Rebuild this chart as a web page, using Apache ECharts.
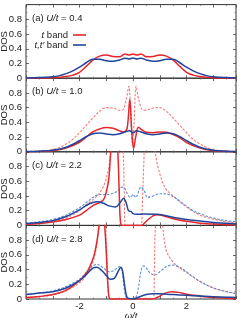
<!DOCTYPE html>
<html><head><meta charset="utf-8">
<script src="https://cdn.jsdelivr.net/npm/echarts@6/dist/echarts.min.js"></script>
<style>html,body{margin:0;padding:0;background:#fff}#c{width:240px;height:318px}</style>
</head><body><div id="c"></div>
<script>
// ---- data (ω/t , DOS) ----
const panelLabels = ['(a) {i|U/t} = 0.4', '(b) {i|U/t} = 1.0', '(c) {i|U/t} = 2.2', '(d) {i|U/t} = 2.8'];
const xTickLabels = [-2, 0, 2];
const yTickLabels = [0, 0.2, 0.4, 0.6, 0.8];

// (a) U/t = 0.4
const aX      = [-4,-3.5,-3,-2.75,-2.5,-2.25,-2,-1.75,-1.5,-1.25,-1,-0.75,-0.5,-0.3,-0.15,0,0.15,0.3,0.5,0.75,1,1.25,1.5,1.75,2,2.25,2.5,2.75,3,3.5,3.85];
const aRed    = [0,0.002,0.006,0.012,0.022,0.042,0.08,0.16,0.245,0.3,0.315,0.295,0.29,0.33,0.315,0.33,0.315,0.33,0.29,0.295,0.315,0.3,0.245,0.16,0.08,0.042,0.022,0.012,0.006,0.002,0.001];
const aBlue   = [0.003,0.008,0.02,0.035,0.062,0.1,0.15,0.21,0.258,0.258,0.238,0.23,0.248,0.272,0.262,0.275,0.262,0.272,0.248,0.23,0.238,0.258,0.258,0.21,0.15,0.1,0.062,0.035,0.02,0.008,0.004];

// (b) U/t = 1.0
const bRedX   = [-4,-3.5,-3,-2.5,-2,-1.75,-1.5,-1.25,-1,-0.75,-0.5,-0.35,-0.22,-0.12,-0.05,0.02,0.1,0.2,0.32,0.5,0.75,1,1.25,1.5,1.75,2,2.5,3,3.5,3.85];
const bRed    = [0.002,0.005,0.015,0.05,0.13,0.2,0.27,0.31,0.33,0.32,0.285,0.27,0.32,0.71,0.3,0.045,0.2,0.335,0.3,0.265,0.26,0.27,0.265,0.235,0.19,0.125,0.05,0.015,0.005,0.002];
const bRedDX  = [-4,-3.5,-3,-2.75,-2.5,-2.25,-2,-1.75,-1.5,-1.25,-1,-0.75,-0.5,-0.38,-0.26,-0.16,-0.07,-0.02,0.04,0.12,0.22,0.36,0.5,0.75,1,1.25,1.5,1.75,2,2.25,2.5,2.75,3,3.5,3.85];
const bRedD   = [0.003,0.01,0.03,0.06,0.105,0.17,0.26,0.36,0.46,0.55,0.6,0.595,0.565,0.57,0.7,0.89,0.4,0.1,0.4,0.89,0.7,0.57,0.565,0.595,0.6,0.55,0.46,0.36,0.26,0.17,0.105,0.06,0.03,0.01,0.005];
const bBlueX  = [-4,-3.5,-3,-2.5,-2,-1.75,-1.5,-1.25,-1,-0.75,-0.5,-0.3,-0.12,0,0.12,0.3,0.5,0.75,1,1.25,1.5,1.75,2,2.5,3,3.5,3.85];
const bBlue   = [0.003,0.008,0.02,0.062,0.15,0.205,0.245,0.255,0.242,0.232,0.245,0.27,0.285,0.255,0.285,0.27,0.245,0.232,0.242,0.255,0.245,0.205,0.15,0.062,0.02,0.008,0.004];

// (c) U/t = 2.2
const cRedX   = [-4,-3.5,-3,-2.5,-2,-1.75,-1.5,-1.25,-1.1,-1,-0.9,-0.82,-0.7,-0.58,-0.52,-0.47,-0.4,0.3,0.35,0.45,0.6,0.75,0.9,1.1,1.5,2,2.5,3,3.5,3.85];
const cRed    = [0.015,0.025,0.045,0.08,0.14,0.2,0.27,0.31,0.35,0.45,0.65,1.05,1.3,1.05,0.5,0.05,0,0,0.005,0.04,0.09,0.13,0.145,0.135,0.09,0.055,0.03,0.018,0.01,0.007];
const cRedDX  = [-4,-3.5,-3,-2.5,-2,-1.75,-1.5,-1.25,-1.05,-0.9,-0.8,-0.6,-0.4,-0.33,-0.28,0.3,0.35,0.4,0.45,0.7,0.85,0.97,1.2,1.5,2,2.5,3,3.5,3.85];
const cRedD   = [0.02,0.03,0.055,0.1,0.2,0.28,0.35,0.44,0.58,0.8,1.05,1.3,1.1,0.5,0,0,0.3,0.8,1.1,1.3,0.95,0.74,0.51,0.4,0.25,0.14,0.085,0.05,0.035];
const cBlueX  = [-4,-3.5,-3,-2.5,-2,-1.75,-1.5,-1.35,-1.1,-0.9,-0.65,-0.5,-0.35,-0.25,-0.17,-0.08,0,0.12,0.4,0.9,1.5,2,2.5,3,3.5,3.85];
const cBlue   = [0.025,0.04,0.065,0.12,0.21,0.27,0.31,0.32,0.3,0.265,0.25,0.3,0.37,0.3,0.2,0.19,0.16,0.15,0.155,0.15,0.11,0.08,0.06,0.04,0.03,0.02];
const cBlueDX = [-4,-3.5,-3,-2.5,-2,-1.75,-1.5,-1.25,-1,-0.8,-0.6,-0.4,-0.3,-0.2,-0.1,0,0.1,0.3,0.42,0.55,0.75,1,1.2,1.5,1.75,2,2.25,2.5,3,3.5,3.85];
const cBlueD  = [0.03,0.05,0.08,0.14,0.24,0.31,0.38,0.42,0.42,0.43,0.46,0.52,0.5,0.42,0.38,0.42,0.38,0.52,0.47,0.38,0.4,0.43,0.43,0.39,0.33,0.26,0.2,0.16,0.1,0.065,0.05];

// (d) U/t = 2.8
const dRedX   = [-4,-3.5,-3,-2.5,-2,-1.75,-1.6,-1.45,-1.33,-1.25,-1.15,-1.07,-1,-0.95,-0.9,-0.85,0.7,0.8,0.95,1.2,1.45,1.7,2,2.5,3,3.5,3.85];
const dRed    = [0.02,0.035,0.06,0.12,0.25,0.35,0.45,0.6,0.83,1.05,1.3,1.05,0.65,0.25,0.03,0,0,0.005,0.03,0.08,0.1,0.09,0.065,0.04,0.02,0.01,0.005];
const dRedDX  = [-4,-3.5,-3,-2.5,-2,-1.75,-1.5,-1.35,-1.25,-1.1,-0.98,-0.92,-0.86,0.76,0.8,0.85,1,1.15,1.25,1.5,1.75,2,2.5,3,3.5,3.85];
const dRedD   = [0.015,0.03,0.055,0.11,0.22,0.32,0.5,0.75,1.05,1.3,0.6,0.1,0,0,0.4,1.05,1.3,0.85,0.65,0.5,0.42,0.36,0.24,0.15,0.1,0.08];
const dBlueX  = [-4,-3.5,-3,-2.5,-2,-1.75,-1.5,-1.35,-1.15,-1,-0.85,-0.7,-0.55,-0.45,-0.38,-0.3,-0.22,-0.1,0,0.1,0.25,0.5,0.75,1,1.25,1.5,2,2.5,3,3.5,3.85];
const dBlue   = [0.06,0.08,0.1,0.15,0.25,0.33,0.42,0.43,0.38,0.32,0.27,0.28,0.38,0.43,0.36,0.15,0.02,0.005,0,0.01,0.03,0.06,0.07,0.07,0.065,0.06,0.05,0.04,0.03,0.025,0.02];
const dBlueDX = [-4,-3.5,-3,-2.5,-2,-1.75,-1.5,-1.35,-1.1,-0.9,-0.75,-0.6,-0.5,-0.42,-0.33,-0.25,-0.1,0.1,0.2,0.3,0.4,0.5,0.65,0.85,1,1.25,1.5,1.75,2,2.25,2.5,3,3.5,3.85];
const dBlueD  = [0.06,0.085,0.11,0.17,0.27,0.36,0.45,0.47,0.42,0.37,0.38,0.42,0.44,0.4,0.15,0.02,0,0.02,0.15,0.38,0.45,0.42,0.35,0.33,0.37,0.44,0.46,0.43,0.37,0.3,0.24,0.15,0.1,0.07];

// ---- styling ----
const RED = '#e8262a', RED_D = '#f27b7b', BLUE = '#22459c', BLUE_D = '#5b8fd9';
const TXT = '#222';
const FONT = '"Liberation Sans Narrow", "Liberation Sans", sans-serif';
const W = 240, L = 26, R = 4, T0 = 4.6, H = 73.6;

const pairs = (xs, ys) => xs.map((x, i) => [x, ys[i]]);

const grids = [], xAxes = [], yAxes = [], titles = [], series = [];
for (let i = 0; i < 4; i++) {
  grids.push({left: L, right: R, top: T0 + i * H, height: H, containLabel: false, outerBoundsMode: 'none',
    show: true, borderColor: '#333', borderWidth: 1, backgroundColor: 'transparent'});
  titles.push({text: panelLabels[i], left: 32, top: T0 + i * H + 8.5, padding: 0,
    textStyle: {fontSize: 9.5, fontWeight: 'normal', color: TXT, fontFamily: FONT,
      rich: {i: {fontStyle: 'italic', fontSize: 9.5, color: TXT, fontFamily: FONT}}}});
}
const tickStyle = {show: true, inside: true, length: 3, lineStyle: {color: '#444', width: 0.8}};
const minorStyle = {show: true, splitNumber: 2, length: 1.5, lineStyle: {color: '#666', width: 0.6}};
for (let i = 0; i < 4; i++) {
  const last = i === 3;
  xAxes.push({type: 'value', gridIndex: i, min: -4, max: 3.85, interval: 1, position: 'bottom',
    axisLine: {show: false, onZero: false}, splitLine: {show: false},
    axisTick: tickStyle, minorTick: minorStyle,
    axisLabel: {show: last, margin: 2, fontSize: 9.5, color: TXT, fontFamily: FONT, showMaxLabel: false,
      formatter: v => (Math.abs(v - Math.round(v)) < 1e-6 && xTickLabels.includes(Math.round(v))) ? String(Math.round(v)) : ''},
    name: last ? 'ω/t' : '', nameLocation: 'middle', nameGap: 12, nameMoveOverlap: false,
    nameTextStyle: {fontSize: 9.5, fontStyle: 'italic', color: TXT, fontFamily: FONT}});
  yAxes.push({type: 'value', gridIndex: i, min: 0, max: 1, interval: 0.2, position: 'left',
    axisLine: {show: false, onZero: false}, splitLine: {show: false},
    axisTick: tickStyle, minorTick: minorStyle,
    axisLabel: {margin: 4, fontSize: 9.5, color: TXT, fontFamily: FONT,
      formatter: v => { const r = Math.round(v * 10) / 10; return yTickLabels.includes(r) ? String(r) : ''; }},
    name: 'DOS', nameLocation: 'middle', nameGap: 17, nameMoveOverlap: false, nameRotate: 90,
    nameTextStyle: {fontSize: 9.5, color: TXT, fontFamily: FONT}});
}
// mirrored ticks on top / right
for (let i = 0; i < 4; i++) {
  xAxes.push({type: 'value', gridIndex: i, min: -4, max: 3.85, interval: 1, position: 'top',
    axisLine: {show: false, onZero: false}, splitLine: {show: false}, axisLabel: {show: false},
    axisTick: tickStyle, minorTick: minorStyle});
  yAxes.push({type: 'value', gridIndex: i, min: 0, max: 1, interval: 0.2, position: 'right',
    axisLine: {show: false, onZero: false}, splitLine: {show: false}, axisLabel: {show: false},
    axisTick: tickStyle, minorTick: minorStyle});
}

function line(name, idx, xs, ys, color, dashed, z) {
  series.push({type: 'line', name, xAxisIndex: idx, yAxisIndex: idx, data: pairs(xs, ys),
    symbol: 'none', showSymbol: false, smooth: 0.35, clip: true, z: z,
    lineStyle: {color, width: dashed ? 1.1 : 1.5, type: dashed ? [2.5, 1.5] : 'solid'},
    itemStyle: {color}, emphasis: {disabled: true}, animation: false});
}
const TB = 't band', TTB = 't,t′ band';
line(TB, 0, aX, aRed, RED, false, 3);
line(TTB, 0, aX, aBlue, BLUE, false, 4);
line('b_tD', 1, bRedDX, bRedD, RED_D, true, 2);
line('b_t', 1, bRedX, bRed, RED, false, 3);
line('b_tt', 1, bBlueX, bBlue, BLUE, false, 4);
line('c_tD', 2, cRedDX, cRedD, RED_D, true, 2);
line('c_ttD', 2, cBlueDX, cBlueD, BLUE_D, true, 2);
line('c_t', 2, cRedX, cRed, RED, false, 3);
line('c_tt', 2, cBlueX, cBlue, BLUE, false, 4);
line('d_tD', 3, dRedDX, dRedD, RED_D, true, 2);
line('d_ttD', 3, dBlueDX, dBlueD, BLUE_D, true, 2);
line('d_t', 3, dRedX, dRed, RED, false, 3);
line('d_tt', 3, dBlueX, dBlue, BLUE, false, 4);

const legendBase = {orient: 'vertical', align: 'right', right: W - 86, padding: 0, itemWidth: 13, itemHeight: 1.6,
  itemGap: 2, selectedMode: false, icon: 'rect',
  textStyle: {fontSize: 9.5, color: TXT, fontFamily: FONT, padding: [0, 0, 0, 0],
    rich: {i: {fontStyle: 'italic', fontSize: 9.5, color: TXT, fontFamily: FONT}}},
  formatter: n => n === TB ? '{i|t} band' : '{i|t,t′} band'};

const chart = echarts.init(document.getElementById('c'), null, {renderer: 'canvas'});
chart.setOption({
  animation: false,
  backgroundColor: '#fff',
  textStyle: {fontFamily: FONT},
  title: titles,
  grid: grids, xAxis: xAxes, yAxis: yAxes, series,
  legend: [Object.assign({}, legendBase, {data: [TB], top: 30}),
           Object.assign({}, legendBase, {data: [TTB], top: 40})]
});
</script></body></html>
